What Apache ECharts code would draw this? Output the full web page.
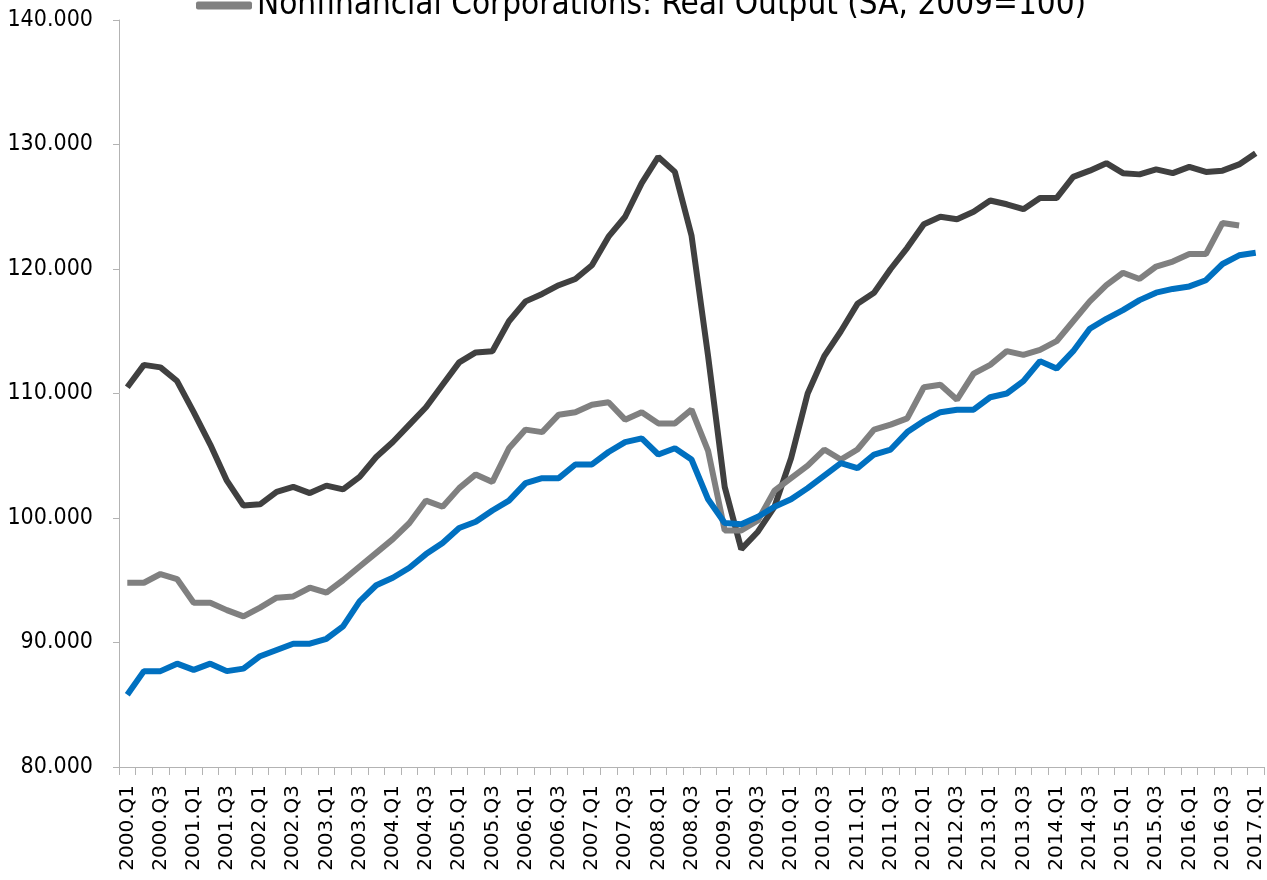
<!DOCTYPE html>
<html>
<head>
<meta charset="utf-8">
<title>Nonfinancial Corporations</title>
<script src="https://cdn.jsdelivr.net/npm/echarts@6/dist/echarts.min.js"></script>
<style>
  html, body { margin: 0; padding: 0; background: #fff; }
  #chart { width: 1267px; height: 880px; }
</style>
</head>
<body>
<div id="chart"></div>
<script>
// quarters 2000.Q1 .. 2017.Q1
const quarters = [];
for (let y = 2000; y <= 2017; y++) {
  for (let q = 1; q <= 4; q++) {
    if (y === 2017 && q > 1) break;
    quarters.push(y + '.Q' + q);
  }
}

const yTicks = [80, 90, 100, 110, 120, 130, 140];

// dark line
const darkSeries = [
  110.5, 112.3, 112.1, 111.0, 108.5, 105.9, 103.0, 101.0, 101.1, 102.1,
  102.5, 102.0, 102.6, 102.3, 103.3, 104.9, 106.1, 107.5, 108.9, 110.7,
  112.5, 113.3, 113.4, 115.8, 117.4, 118.0, 118.7, 119.2, 120.3, 122.6,
  124.2, 126.9, 129.0, 127.8, 122.7, 113.0, 102.5, 97.5, 98.9, 100.9,
  104.8, 110.0, 113.0, 115.0, 117.2, 118.1, 120.0, 121.7, 123.6, 124.2,
  124.0, 124.6, 125.5, 125.2, 124.8, 125.7, 125.7, 127.4, 127.9, 128.5,
  127.7, 127.6, 128.0, 127.7, 128.2, 127.8, 127.9, 128.4, 129.3
];

// grey line: Real Output
const realOutput = [
  94.8, 94.8, 95.5, 95.1, 93.2, 93.2, 92.6, 92.1, 92.8, 93.6,
  93.7, 94.4, 94.0, 95.0, 96.1, 97.2, 98.3, 99.6, 101.4, 100.9,
  102.4, 103.5, 102.9, 105.6, 107.1, 106.9, 108.3, 108.5, 109.1, 109.3,
  107.9, 108.5, 107.6, 107.6, 108.7, 105.4, 99.0, 99.0, 99.8, 102.2,
  103.2, 104.2, 105.5, 104.7, 105.5, 107.1, 107.5, 108.0, 110.5, 110.7,
  109.5, 111.6, 112.3, 113.4, 113.1, 113.5, 114.2, 115.8, 117.4, 118.7,
  119.7, 119.2, 120.2, 120.6, 121.2, 121.2, 123.7, 123.5, null
];

// blue line
const blueSeries = [
  85.8, 87.7, 87.7, 88.3, 87.8, 88.3, 87.7, 87.9, 88.9, 89.4,
  89.9, 89.9, 90.3, 91.3, 93.3, 94.6, 95.2, 96.0, 97.1, 98.0,
  99.2, 99.7, 100.6, 101.4, 102.8, 103.2, 103.2, 104.3, 104.3, 105.3,
  106.1, 106.4, 105.1, 105.6, 104.7, 101.5, 99.6, 99.5, 100.1, 100.9,
  101.5, 102.4, 103.4, 104.4, 104.0, 105.1, 105.5, 106.9, 107.8, 108.5,
  108.7, 108.7, 109.7, 110.0, 111.0, 112.6, 112.0, 113.4, 115.2, 116.0,
  116.7, 117.5, 118.1, 118.4, 118.6, 119.1, 120.4, 121.1, 121.3
];

const outputName = 'Nonfinancial Corporations: Real Output (SA, 2009=100)';

const myChart = echarts.init(document.getElementById('chart'));
const option = {
  animation: false,
  backgroundColor: '#ffffff',
  legend: {
    data: [outputName],
    left: 191,
    top: -16,
    icon: 'roundRect',
    itemWidth: 56,
    itemHeight: 8,
    itemGap: 4,
    textStyle: {
      fontFamily: "'DejaVu Sans Condensed', 'DejaVu Sans', sans-serif",
      fontSize: 33,
      color: '#000000'
    }
  },
  grid: {
    left: 119,
    right: 3,
    top: 20,
    bottom: 113,
    outerBoundsMode: 'none'
  },
  xAxis: {
    type: 'category',
    data: quarters,
    boundaryGap: true,
    axisLine: { lineStyle: { color: '#b3b3b3', width: 1 } },
    axisTick: { show: true, interval: 0, length: 8, lineStyle: { color: '#b3b3b3' } },
    axisLabel: {
      interval: 1,
      rotate: 90,
      margin: 18,
      fontFamily: "'DejaVu Sans', sans-serif",
      fontSize: 20,
      color: '#000000'
    },
    splitLine: { show: false }
  },
  yAxis: {
    type: 'value',
    min: yTicks[0],
    max: yTicks[yTicks.length - 1],
    interval: 10,
    axisLine: { show: true, lineStyle: { color: '#b3b3b3', width: 1 } },
    axisTick: { show: true, length: 6, lineStyle: { color: '#b3b3b3' } },
    axisLabel: {
      formatter: v => v.toFixed(3),
      margin: 26,
      fontFamily: "'DejaVu Sans Condensed', 'DejaVu Sans', sans-serif",
      fontSize: 23,
      color: '#000000'
    },
    splitLine: { show: false }
  },
  series: [
    {
      name: 'Nonfinancial Corporations: Series A',
      type: 'line',
      data: darkSeries,
      symbol: 'none',
      lineStyle: { color: '#404040', width: 6 },
      itemStyle: { color: '#404040' }
    },
    {
      name: outputName,
      type: 'line',
      data: realOutput,
      symbol: 'none',
      lineStyle: { color: '#808080', width: 6 },
      itemStyle: { color: '#808080' }
    },
    {
      name: 'Nonfinancial Corporations: Series B',
      type: 'line',
      data: blueSeries,
      symbol: 'none',
      lineStyle: { color: '#0070c0', width: 6 },
      itemStyle: { color: '#0070c0' }
    }
  ]
};
myChart.setOption(option);
</script>
</body>
</html>
